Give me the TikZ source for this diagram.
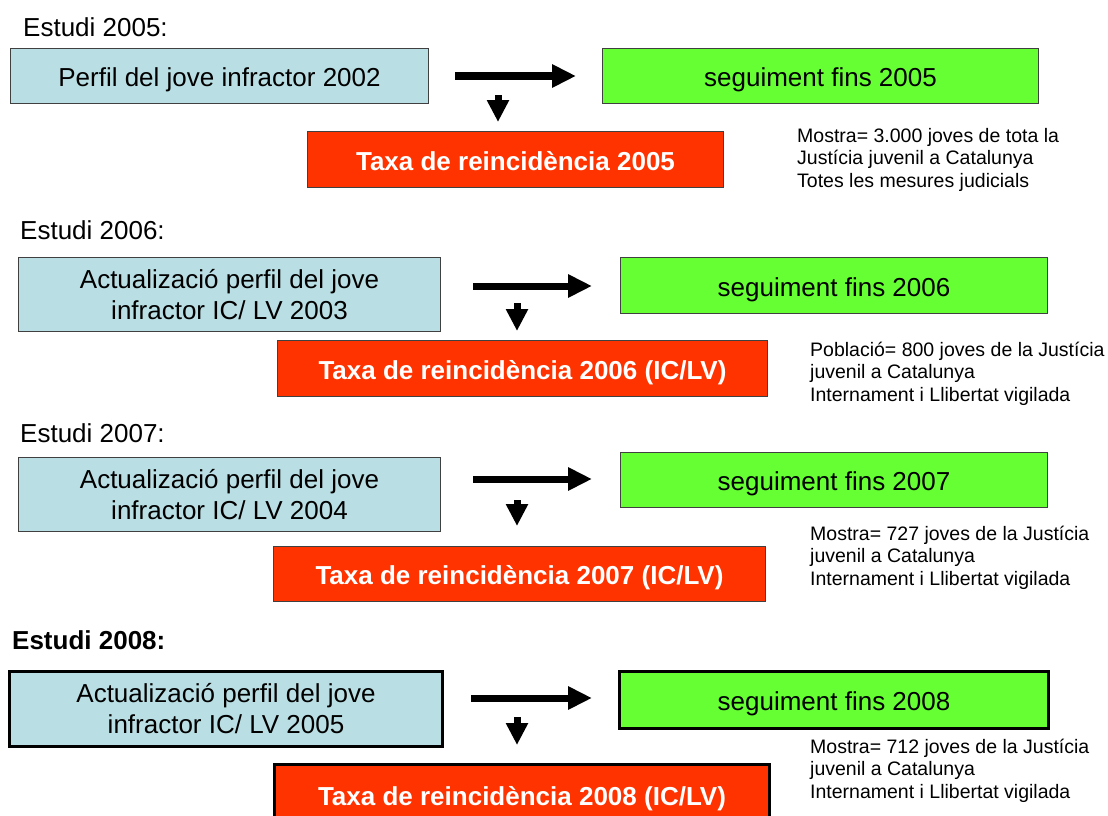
\documentclass[tikz,border=0pt]{standalone}
\usepackage{fontspec}
\setmainfont{Liberation Sans}
\usetikzlibrary{arrows.meta}
\definecolor{boxblue}{RGB}{185,223,228}
\definecolor{boxgreen}{RGB}{102,255,51}
\definecolor{boxred}{RGB}{255,51,0}
\definecolor{edgegray}{RGB}{64,64,64}
\begin{document}
\begin{tikzpicture}[x=1pt,y=-1pt,
  boxbase/.style={draw=edgegray, line width=1pt, inner sep=0pt, anchor=north west,
    align=center, font=\fontsize{26}{31}\selectfont},
  oneline/.style={text height=21pt, text depth=0pt},
  bluebox/.style={boxbase, fill=boxblue},
  greenbox/.style={boxbase, fill=boxgreen, oneline},
  redbox/.style={boxbase, fill=boxred, text=white, oneline, font=\fontsize{26}{31}\selectfont\bfseries},
  heavy/.style={draw=black, line width=3pt},
  harrow/.style={line width=7pt, -{Triangle[length=24pt,width=22pt]}},
  darrow/.style={line width=7pt, -{Triangle[length=22pt,width=21pt]}},
  heading/.style={anchor=base west, inner sep=0pt, font=\fontsize{26}{31}\selectfont},
  note/.style={anchor=base west, inner sep=0pt, font=\fontsize{19.5}{22.7}\selectfont}
]
\useasboundingbox (0,0) rectangle (1108,816);

% ---- Estudi 2005
\node[heading] (e1) at (23,37) {Estudi 2005:};
\node[bluebox, oneline, minimum width=418pt, minimum height=55pt] (b1) at (10,48) {Perfil del jove infractor 2002};
\node[greenbox, minimum width=436pt, minimum height=55pt] (g1) at (602,48) {seguiment fins 2005};
\node[redbox, minimum width=416pt, minimum height=56pt] (r1) at (307,131) {Taxa de reincidència 2005};
\node[note] (n1) at (797,142) {\begin{tabular}[t]{@{}l@{}}Mostra= 3.000 joves de tota la\\Justícia juvenil a Catalunya\\Totes les mesures judicials\end{tabular}};
\coordinate (h1a) at (455,76); \coordinate (h1b) at (576,76);
\coordinate (d1a) at (498,95); \coordinate (d1b) at (498,122);
\draw[harrow] (h1a) -- (h1b);
\draw[darrow] (d1a) -- (d1b);

% ---- Estudi 2006
\node[heading] (e2) at (20,239) {Estudi 2006:};
\node[bluebox, minimum width=422pt, minimum height=74pt] (b2) at (18,257) {Actualizació perfil del jove\\infractor IC/ LV 2003};
\node[greenbox, minimum width=427pt, minimum height=56pt] (g2) at (620,257) {seguiment fins 2006};
\node[redbox, minimum width=490pt, minimum height=56pt] (r2) at (277,340) {Taxa de reincidència 2006 (IC/LV)};
\node[note] (n2) at (810,356) {\begin{tabular}[t]{@{}l@{}}Població= 800 joves de la Justícia\\juvenil a Catalunya\\Internament i Llibertat vigilada\end{tabular}};
\coordinate (h2a) at (473,286); \coordinate (h2b) at (592,286);
\coordinate (d2a) at (517,303); \coordinate (d2b) at (517,331);
\draw[harrow] (h2a) -- (h2b);
\draw[darrow] (d2a) -- (d2b);

% ---- Estudi 2007
\node[heading] (e3) at (20,442) {Estudi 2007:};
\node[bluebox, minimum width=422pt, minimum height=74pt] (b3) at (18,457) {Actualizació perfil del jove\\infractor IC/ LV 2004};
\node[greenbox, minimum width=427pt, minimum height=55pt] (g3) at (620,452) {seguiment fins 2007};
\node[redbox, minimum width=492pt, minimum height=55pt] (r3) at (273,546) {Taxa de reincidència 2007 (IC/LV)};
\node[note] (n3) at (810,540) {\begin{tabular}[t]{@{}l@{}}Mostra= 727 joves de la Justícia\\juvenil a Catalunya\\Internament i Llibertat vigilada\end{tabular}};
\coordinate (h3a) at (473,479); \coordinate (h3b) at (592,479);
\coordinate (d3a) at (517,500); \coordinate (d3b) at (517,526);
\draw[harrow] (h3a) -- (h3b);
\draw[darrow] (d3a) -- (d3b);

% ---- Estudi 2008
\node[heading, font=\fontsize{26}{31}\selectfont\bfseries] (e4) at (12,649) {Estudi 2008:};
\node[bluebox, heavy, minimum width=433pt, minimum height=75pt] (b4) at (8,670) {Actualizació perfil del jove\\infractor IC/ LV 2005};
\node[greenbox, heavy, minimum width=429pt, minimum height=57pt] (g4) at (618,670) {seguiment fins 2008};
\node[redbox, heavy, minimum width=495pt, minimum height=60pt] (r4) at (273,763) {Taxa de reincidència 2008 (IC/LV)};
\node[note] (n4) at (810,753) {\begin{tabular}[t]{@{}l@{}}Mostra= 712 joves de la Justícia\\juvenil a Catalunya\\Internament i Llibertat vigilada\end{tabular}};
\coordinate (h4a) at (471,698); \coordinate (h4b) at (592,698);
\coordinate (d4a) at (517,717); \coordinate (d4b) at (517,745);
\draw[harrow] (h4a) -- (h4b);
\draw[darrow] (d4a) -- (d4b);
\end{tikzpicture}
\end{document}
